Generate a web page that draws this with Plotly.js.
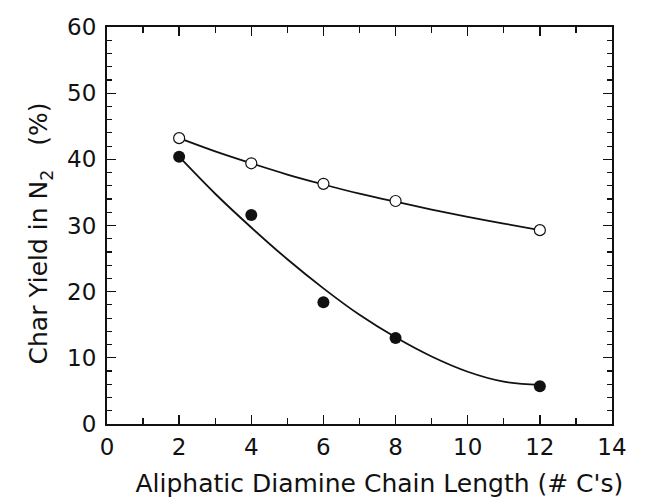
<!DOCTYPE html>
<html>
<head>
<meta charset="utf-8">
<script src="https://cdn.plot.ly/plotly-3.0.1.min.js"></script>
<style>html,body{margin:0;padding:0;background:#fff;}#chart{width:649px;height:504px;}</style>
</head>
<body>
<div id="chart"></div>
<script>
// Data
const chainLength = [2, 4, 6, 8, 12];
const openYield = [43.2, 39.4, 36.3, 33.7, 29.3];
const filledYield = [40.4, 31.6, 18.4, 13.0, 5.7];

// Fitted curves as drawn in the picture
const fitX = [2, 3, 4, 5, 6, 7, 8, 9, 10, 11, 12];
const openFit = [43.2, 41.2, 39.4, 37.7, 36.2, 34.8, 33.6, 32.4, 31.3, 30.3, 29.3];
const filledFit = [40.4, 34.8, 29.7, 24.9, 20.5, 16.5, 13.1, 10.2, 7.9, 6.4, 5.9];

const xTickVals = [0, 2, 4, 6, 8, 10, 12, 14];
const yTickVals = [0, 10, 20, 30, 40, 50, 60];

const FONT = 'DejaVu Sans, Arial, sans-serif';

const traces = [
  {x: fitX, y: openFit, mode: 'lines', line: {color: '#111', width: 1.8, shape: 'spline'}, hoverinfo: 'skip'},
  {x: fitX, y: filledFit, mode: 'lines', line: {color: '#111', width: 1.8, shape: 'spline'}, hoverinfo: 'skip'},
  {x: chainLength, y: openYield, mode: 'markers', marker: {symbol: 'circle', size: 11, color: '#fff', line: {color: '#111', width: 1.2}}},
  {x: chainLength, y: filledYield, mode: 'markers', marker: {symbol: 'circle', size: 12, color: '#111', line: {color: '#111', width: 0}}}
];

const axisCommon = {
  showline: true, linecolor: '#111', linewidth: 2, mirror: 'ticks',
  ticks: 'inside', tickcolor: '#111', tickwidth: 1.3, ticklen: 9,
  showgrid: false, zeroline: false,
  tickfont: {family: FONT, size: 23, color: '#111'}
};

const layout = {
  width: 649, height: 504,
  margin: {l: 107, r: 37, t: 27, b: 80},
  paper_bgcolor: '#fff', plot_bgcolor: '#fff',
  showlegend: false,
  xaxis: Object.assign({}, axisCommon, {
    range: [0, 14], tickvals: xTickVals, ticklabelstandoff: 1,
    minor: {dtick: 1, tick0: 0, ticks: 'inside', ticklen: 6, tickcolor: '#111', tickwidth: 1.2},
    title: {text: "&nbsp;&nbsp;&nbsp;&nbsp;&nbsp;Aliphatic Diamine Chain Length (# C's)", font: {family: FONT, size: 25, color: '#111'}, standoff: 16}
  }),
  yaxis: Object.assign({}, axisCommon, {
    range: [0, 60], tickvals: yTickVals, ticklabelstandoff: 4,
    minor: {dtick: 2, tick0: 0, ticks: 'inside', ticklen: 5, tickcolor: '#111', tickwidth: 1.2},
    title: {text: 'Char Yield in N<sub>2</sub>&nbsp;&nbsp;&nbsp;(%)&nbsp;&nbsp;', font: {family: FONT, size: 25, color: '#111'}, standoff: 12}
  })
};

Plotly.newPlot('chart', traces, layout, {displayModeBar: false, staticPlot: true});
</script>
</body>
</html>
